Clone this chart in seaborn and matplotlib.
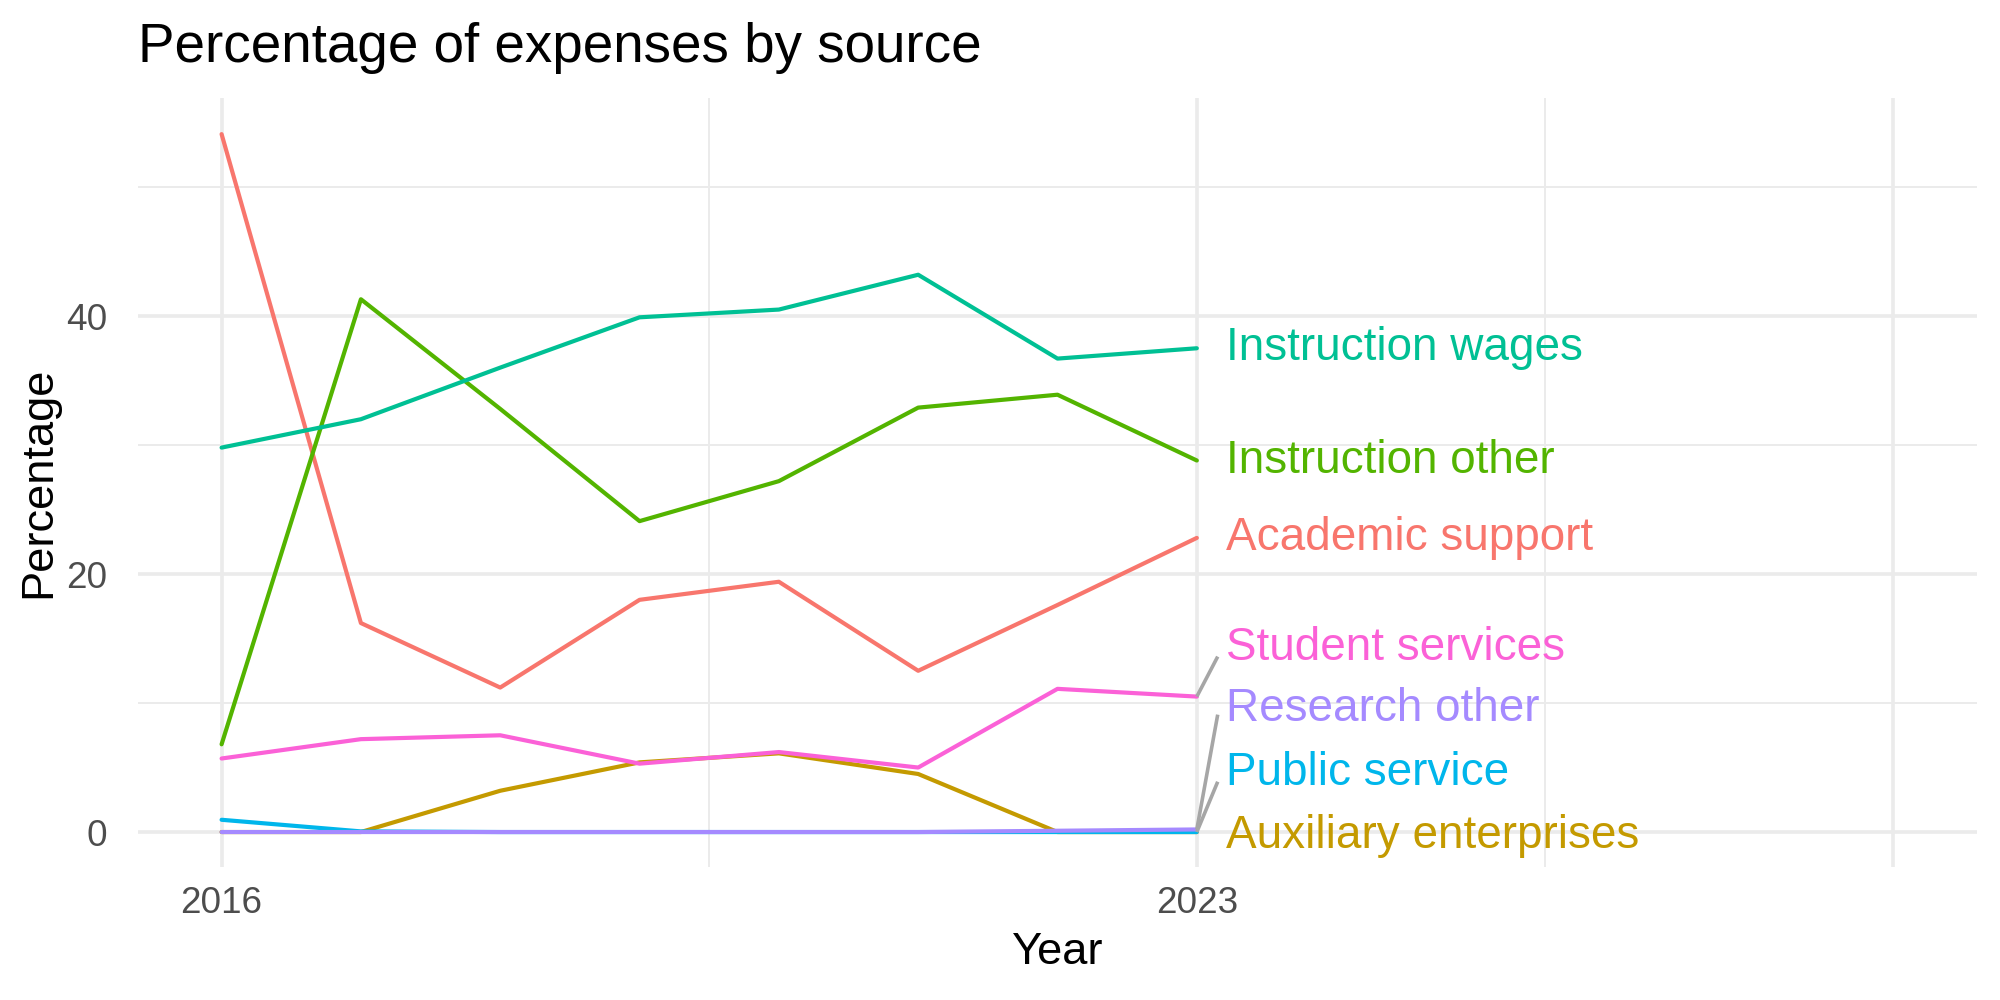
import matplotlib
matplotlib.use('Agg')
import matplotlib.pyplot as plt
import seaborn as sns
import pandas as pd

# values (percent of expenses)
years = [2016, 2017, 2018, 2019, 2020, 2021, 2022, 2023]
academic_support = [54.1, 16.2, 11.2, 18.0, 19.4, 12.5, 17.6, 22.8]
auxiliary_enterprises = [0.0, 0.0, 3.2, 5.4, 6.1, 4.5, 0.0, 0.0]
instruction_other = [6.8, 41.3, 32.8, 24.1, 27.2, 32.9, 33.9, 28.8]
instruction_wages = [29.8, 32.0, 36.0, 39.9, 40.5, 43.2, 36.7, 37.5]
public_service = [0.95, 0.05, 0.0, 0.0, 0.0, 0.0, 0.0, 0.0]
research_other = [0.0, 0.0, 0.0, 0.0, 0.0, 0.0, 0.1, 0.2]
student_services = [5.7, 7.2, 7.5, 5.3, 6.2, 5.0, 11.1, 10.5]

sources = ["Academic support", "Auxiliary enterprises", "Instruction other",
           "Instruction wages", "Public service", "Research other", "Student services"]
series = [academic_support, auxiliary_enterprises, instruction_other,
          instruction_wages, public_service, research_other, student_services]

# ggplot default hue colours
colors = ["#F8766D", "#C49A00", "#53B400", "#00C094", "#00B6EB", "#A58AFF", "#FB61D7"]
palette = dict(zip(sources, colors))

# where the repelled labels ended up (y in data units)
label_y = {"Instruction wages": 37.5, "Instruction other": 28.8, "Academic support": 22.8,
           "Student services": 14.3, "Research other": 9.5, "Public service": 4.6,
           "Auxiliary enterprises": -0.3}
segment_end = {"Student services": 13.6, "Research other": 9.1, "Public service": 3.9}

rows = []
for name, vals in zip(sources, series):
    for yr, v in zip(years, vals):
        rows.append({"Year": yr, "Percentage": v, "source": name})
df = pd.DataFrame(rows)

sns.set_theme(style="white")
plt.rcParams['font.family'] = ['Liberation Sans', 'DejaVu Sans']

fig = plt.figure(figsize=(10, 5), dpi=200)
ax = fig.add_axes([0.069, 0.133, 0.9195, 0.769])

grid = "#EBEBEB"
ax.set_xlim(2015.4, 2028.6)
ax.set_ylim(-2.71, 56.9)
ax.set_xticks([2016, 2023, 2028], labels=["2016", "2023", ""])
ax.set_xticks([2019.5, 2025.5], minor=True)
ax.set_yticks([0, 20, 40], labels=["0", "20", "40"])
ax.set_yticks([10, 30, 50], minor=True)
ax.grid(True, which="major", color=grid, lw=1.3)
ax.grid(True, which="minor", color=grid, lw=0.7)
ax.set_axisbelow(True)
for s in ax.spines.values():
    s.set_visible(False)
ax.tick_params(which="both", length=0)
ax.tick_params(axis="x", labelsize=13.3, labelcolor="#4D4D4D", pad=7)
ax.tick_params(axis="y", labelsize=13.3, labelcolor="#4D4D4D", pad=11)

sns.lineplot(data=df, x="Year", y="Percentage", hue="source", hue_order=sources,
             palette=palette, lw=1.5, legend=False, ax=ax)

for name in sources:
    last = series[sources.index(name)][-1]
    if name in segment_end:
        ax.plot([2023, 2023.15], [last, segment_end[name]], color="#A6A6A6", lw=1.3,
                solid_capstyle="butt", zorder=3)
    ax.text(2023.21, label_y[name], name, color=palette[name], fontsize=16.5,
            ha="left", va="center")

ax.set_xlabel("Year", fontsize=16.3, color="black")
ax.set_ylabel("Percentage", fontsize=16.3, color="black")
ax.xaxis.set_label_coords(0.5, -0.085)
ax.yaxis.set_label_coords(-0.043, 0.5)
ax.set_title("Percentage of expenses by source", loc="left", fontsize=19.7,
             color="black", pad=13)

plt.savefig("out.png", dpi=200)
